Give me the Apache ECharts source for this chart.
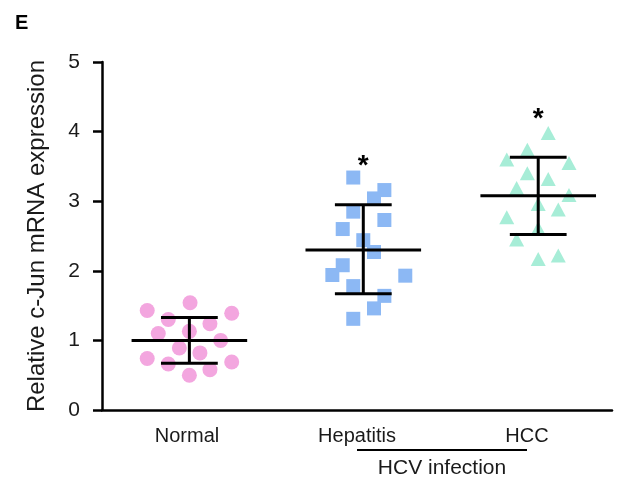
<!DOCTYPE html>
<html>
<head>
<meta charset="utf-8">
<script src="https://cdn.jsdelivr.net/npm/echarts@6/dist/echarts.min.js"></script>
<style>
html,body{margin:0;padding:0;background:#fff}
#main{width:627px;height:481px}
</style>
</head>
<body>
<div id="main"></div>
<script>
// 分组
var groups = ['Normal', 'Hepatitis', 'HCC']
var yTicks = [0, 1, 2, 3, 4, 5]

// 各组散点 [x位置, 表达量]
var normalPts = [
	[0.266, 1.43], [0.518, 1.54], [0.763, 1.39], [0.390, 1.30], [0.635, 1.24],
	[0.331, 1.10], [0.514, 1.13], [0.698, 1.00], [0.455, 0.89], [0.576, 0.82],
	[0.266, 0.74], [0.390, 0.66], [0.763, 0.69], [0.635, 0.58], [0.514, 0.50]
]
var hepatitisPts = [
	[1.478, 3.34], [1.661, 3.16], [1.600, 3.04], [1.478, 2.85], [1.661, 2.73],
	[1.416, 2.60], [1.537, 2.44], [1.600, 2.27], [1.416, 2.08], [1.355, 1.94],
	[1.784, 1.93], [1.478, 1.78], [1.661, 1.64], [1.600, 1.46], [1.478, 1.31]
]
var hccPts = [
	[2.625, 3.98], [2.502, 3.74], [2.381, 3.60], [2.747, 3.55], [2.502, 3.40],
	[2.625, 3.32], [2.439, 3.19], [2.747, 3.09], [2.566, 2.96], [2.684, 2.88],
	[2.381, 2.77], [2.566, 2.61], [2.439, 2.45], [2.566, 2.17], [2.684, 2.22]
]

// 均值和误差线
var groupCenter = [0.514, 1.537, 2.566]
var groupMean = [1.00, 2.30, 3.08]
var groupLow = [0.67, 1.67, 2.52]
var groupHigh = [1.33, 2.95, 3.63]
// 显著性标记
var starText = ['', '*', '*']
var starY = [0, 3.50, 4.18]

var FONT = '"Liberation Sans", Arial, sans-serif'

var barData = []
for (var i = 0; i < groups.length; i++) {
	barData.push([groupCenter[i], groupMean[i], groupLow[i], groupHigh[i], i])
}

function renderBar(params, api) {
	var cx = api.value(0)
	var pm = api.coord([cx, api.value(1)])
	var pl = api.coord([cx, api.value(2)])
	var ph = api.coord([cx, api.value(3)])
	var unit = api.size([1, 0])[0]
	var mw = unit * 0.34, cw = unit * 0.167
	var st = {stroke: '#000', lineWidth: 3}
	var idx = api.value(4)
	var children = [
		{type: 'line', shape: {x1: pm[0] - mw, y1: pm[1], x2: pm[0] + mw, y2: pm[1]}, style: st},
		{type: 'line', shape: {x1: ph[0], y1: ph[1], x2: pl[0], y2: pl[1]}, style: st},
		{type: 'line', shape: {x1: ph[0] - cw, y1: ph[1], x2: ph[0] + cw, y2: ph[1]}, style: st},
		{type: 'line', shape: {x1: pl[0] - cw, y1: pl[1], x2: pl[0] + cw, y2: pl[1]}, style: st}
	]
	if (starText[idx]) {
		var ps = api.coord([cx, starY[idx]])
		children.push({type: 'text', style: {text: starText[idx], x: ps[0], y: ps[1], align: 'center', verticalAlign: 'middle',
			fontSize: 28, fontWeight: 'bold', fontFamily: FONT, fill: '#000'}})
	}
	return {type: 'group', children: children}
}

// HCV infection 标注
function renderHcv(params, api) {
	var a = api.coord([1.5, 0])
	var b = api.coord([2.5, 0])
	return {type: 'group', children: [
		{type: 'line', shape: {x1: a[0], y1: a[1] + 40, x2: b[0], y2: b[1] + 40}, style: {stroke: '#000', lineWidth: 1.8}},
		{type: 'text', style: {text: 'HCV infection', x: (a[0] + b[0]) / 2, y: a[1] + 58, align: 'center', verticalAlign: 'middle',
			fontSize: 21, fontFamily: FONT, fill: '#1a1a1a'}}
	]}
}

var myChart = echarts.init(document.getElementById('main'))
myChart.setOption({
	animation: false,
	backgroundColor: '#fff',
	title: {
		text: 'E', left: 10, top: 8,
		textStyle: {fontSize: 20, fontWeight: 'bold', fontFamily: FONT, color: '#000'}
	},
	grid: {left: 102, top: 62, right: 15, bottom: 71},
	xAxis: [{
		type: 'category',
		data: groups,
		boundaryGap: true,
		axisLine: {lineStyle: {color: '#000', width: 2.5}},
		axisTick: {alignWithLabel: true, length: 8, lineStyle: {color: '#000', width: 2.5}},
		axisLabel: {fontSize: 20, fontFamily: FONT, color: '#1a1a1a', margin: 16},
		splitLine: {show: false}
	}, {
		type: 'value', min: 0, max: 3, show: false, position: 'bottom'
	}],
	yAxis: {
		type: 'value', min: yTicks[0], max: yTicks[yTicks.length - 1], interval: 1,
		name: 'Relative c-Jun mRNA expression',
		nameLocation: 'middle', nameGap: 53,
		nameTextStyle: {fontSize: 24, fontFamily: FONT, color: '#1a1a1a'},
		axisLine: {show: true, lineStyle: {color: '#000', width: 2.5}},
		axisTick: {show: true, length: 9, lineStyle: {color: '#000', width: 2.5}},
		axisLabel: {fontSize: 21, fontFamily: FONT, color: '#1a1a1a', margin: 22},
		splitLine: {show: false}
	},
	series: [{
		name: 'Normal', type: 'scatter', xAxisIndex: 1, data: normalPts,
		symbol: 'circle', symbolSize: 15, itemStyle: {color: '#F3A6DF', opacity: 1}
	}, {
		name: 'Hepatitis', type: 'scatter', xAxisIndex: 1, data: hepatitisPts,
		symbol: 'rect', symbolSize: 14, itemStyle: {color: '#8CB8F4', opacity: 1}
	}, {
		name: 'HCC', type: 'scatter', xAxisIndex: 1, data: hccPts,
		symbol: 'triangle', symbolSize: [15, 14], itemStyle: {color: '#A7EDD7', opacity: 1}
	}, {
		type: 'custom', xAxisIndex: 1, data: barData, renderItem: renderBar, clip: false, z: 5
	}, {
		type: 'custom', xAxisIndex: 1, data: [[0, 0]], renderItem: renderHcv, clip: false, silent: true
	}]
})
</script>
</body>
</html>
